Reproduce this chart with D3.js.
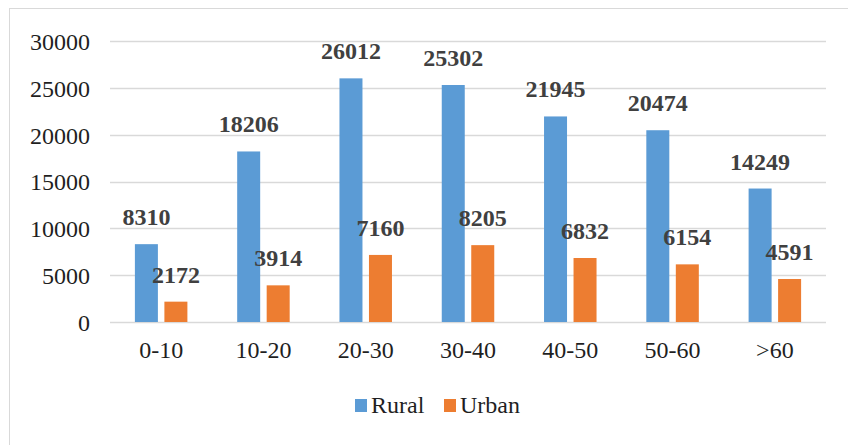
<!DOCTYPE html>
<html>
<head>
<meta charset="utf-8">
<script src="https://cdn.jsdelivr.net/npm/d3@7"></script>
<style>
  body { margin: 0; background: #fff; }
  text { font-family: "Liberation Serif", "Times New Roman", serif; }
</style>
</head>
<body>
<div id="chart"></div>
<script>
// age groups and counts
var categories = ["0-10", "10-20", "20-30", "30-40", "40-50", "50-60", ">60"];
var rural = [8310, 18206, 26012, 25302, 21945, 20474, 14249];
var urban = [2172, 3914, 7160, 8205, 6832, 6154, 4591];
var seriesNames = ["Rural", "Urban"];
var yTicks = [0, 5000, 10000, 15000, 20000, 25000, 30000];

var colors = ["#5B9BD5", "#ED7D31"];
var W = 848, H = 445;
var plotLeft = 110, plotRight = 826, plotTop = 41, plotBottom = 322;
var fontSize = "24px";

var svg = d3.select("#chart").append("svg")
  .attr("width", W)
  .attr("height", H);

// outer frame
svg.append("rect")
  .attr("x", 9.5).attr("y", 8.5)
  .attr("width", 900).attr("height", 500)
  .style("fill", "#fff")
  .style("stroke", "#d9d9d9");

var x0 = d3.scaleBand().domain(categories).range([plotLeft, plotRight]);
var y = d3.scaleLinear().domain([0, 30000]).range([plotBottom, plotTop]);

// gridlines
svg.selectAll(".grid")
  .data(yTicks)
  .enter().append("line")
  .attr("x1", plotLeft).attr("x2", plotRight)
  .attr("y1", function(d) { return Math.round(y(d)) + 0.5; })
  .attr("y2", function(d) { return Math.round(y(d)) + 0.5; })
  .style("stroke", "#d9d9d9")
  .style("stroke-width", 1.5);

// y axis labels
var yAxis = d3.axisLeft(y).tickValues(yTicks).tickFormat(d3.format("d")).tickSize(0).tickPadding(0);
var yg = svg.append("g").attr("transform", "translate(90,0)").call(yAxis);
yg.select(".domain").remove();
yg.selectAll("text")
  .style("font-family", "Liberation Serif, serif")
  .style("font-size", fontSize)
  .style("fill", "#1f1f1f")
  .attr("dy", "0.35em");

// x axis labels
var xAxis = d3.axisBottom(x0).tickSize(0).tickPadding(0);
var xg = svg.append("g").attr("transform", "translate(0,341)").call(xAxis);
xg.select(".domain").remove();
xg.selectAll("text")
  .style("font-family", "Liberation Serif, serif")
  .style("font-size", fontSize)
  .style("fill", "#1f1f1f")
  .attr("dy", "0.71em");

var barW = 23, gap = 6.5;
var data = categories.map(function(c, i) {
  return { cat: c, vals: [rural[i], urban[i]] };
});

var groups = svg.selectAll(".cat")
  .data(data)
  .enter().append("g")
  .attr("class", "cat")
  .attr("transform", function(d) { return "translate(" + (x0(d.cat) + x0.bandwidth() / 2) + ",0)"; });

function barX(j) { return j == 0 ? -gap / 2 - barW : gap / 2; }

groups.selectAll("rect")
  .data(function(d) { return d.vals; })
  .enter().append("rect")
  .attr("x", function(d, j) { return barX(j); })
  .attr("y", function(d) { return y(d); })
  .attr("width", barW)
  .attr("height", function(d) { return y(0) - y(d); })
  .style("fill", function(d, j) { return colors[j]; });

// value labels drawn after all bars
var labelGroups = svg.selectAll(".lab")
  .data(data)
  .enter().append("g")
  .attr("class", "lab")
  .attr("transform", function(d) { return "translate(" + (x0(d.cat) + x0.bandwidth() / 2) + ",0)"; });

labelGroups.selectAll("text")
  .data(function(d) { return d.vals; })
  .enter().append("text")
  .attr("x", function(d, j) { return barX(j) + barW / 2; })
  .attr("y", function(d) { return y(d) - 19; })
  .attr("text-anchor", "middle")
  .style("font-size", fontSize)
  .style("font-weight", "bold")
  .style("fill", "#404040")
  .text(function(d) { return d; });

// legend
var legendX = [355, 444];
var leg = svg.selectAll(".legend")
  .data(seriesNames)
  .enter().append("g")
  .attr("class", "legend")
  .attr("transform", function(d, i) { return "translate(" + legendX[i] + ",399)"; });
leg.append("rect")
  .attr("width", 12).attr("height", 13)
  .style("fill", function(d, i) { return colors[i]; });
leg.append("text")
  .attr("x", 16).attr("y", 14)
  .style("font-size", fontSize)
  .style("fill", "#1f1f1f")
  .text(function(d) { return d; });
</script>
</body>
</html>
